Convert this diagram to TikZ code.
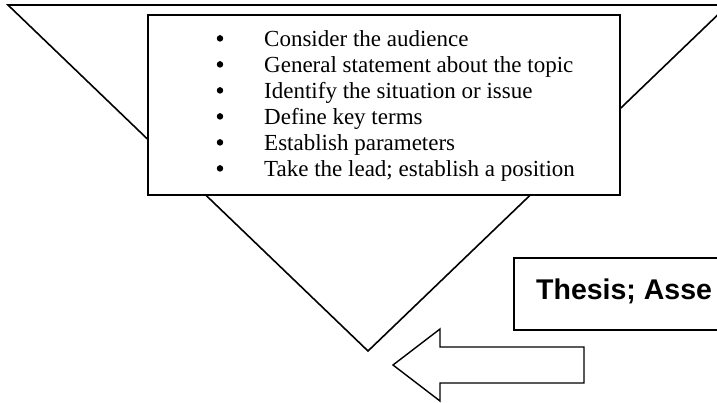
\documentclass[tikz,border=0pt]{standalone}
\usepackage{fontspec}
\setmainfont{Liberation Serif}
\newfontfamily\thesisfont{Liberation Sans}
\newfontfamily\dotfont[FakeBold=4]{Liberation Serif}
\tikzset{outline/.style={draw=black, line width=1.6pt, fill=white},
  pointtext/.style={anchor=base west, inner sep=0pt, font=\fontsize{23}{26}\selectfont},
  pointdot/.style={anchor=base, inner sep=0pt, font=\dotfont\fontsize{23}{26}\selectfont}}

\begin{document}
\begin{tikzpicture}[x=1pt,y=-1pt]
  \useasboundingbox (0,0) rectangle (717,402);
  \clip (0,0) rectangle (717,402);
  % funnel
  \coordinate (tl) at (8,5);
  \coordinate (tr) at (728,5);
  \coordinate (tip) at (368,351);
  \draw[outline] (tl) -- (tr) -- (tip) -- cycle;
  % intro box
  \node[outline, minimum width=472pt, minimum height=180pt, inner sep=0pt] (intro) at (384,105) {};
  \foreach \txt [count=\i] in {Consider the audience, General statement about the topic,
      Identify the situation or issue, Define key terms, Establish parameters,
      Take the lead; establish a position}{
    \node[pointdot] (dot\i) at (220, 20+26*\i) {\textbullet};
    \node[pointtext] (pt\i) at (264, 20+26*\i) {\txt};
  }
  % thesis box
  \node[outline, anchor=north west, minimum width=260pt, minimum height=72pt, inner sep=0pt] (thesis) at (513,257) {};
  \node[anchor=base west, inner sep=0pt, font=\thesisfont\bfseries\fontsize{28.5}{30}\selectfont] (claim) at (536,299) {Thesis; Asse};
  % arrow
  \draw[outline, line width=1.4pt] (393,365) -- ++(47,-36) -- ++(0,18) -- ++(144,0) -- ++(0,36)
    -- ++(-144,0) -- ++(0,18) -- cycle;
\end{tikzpicture}
\end{document}
